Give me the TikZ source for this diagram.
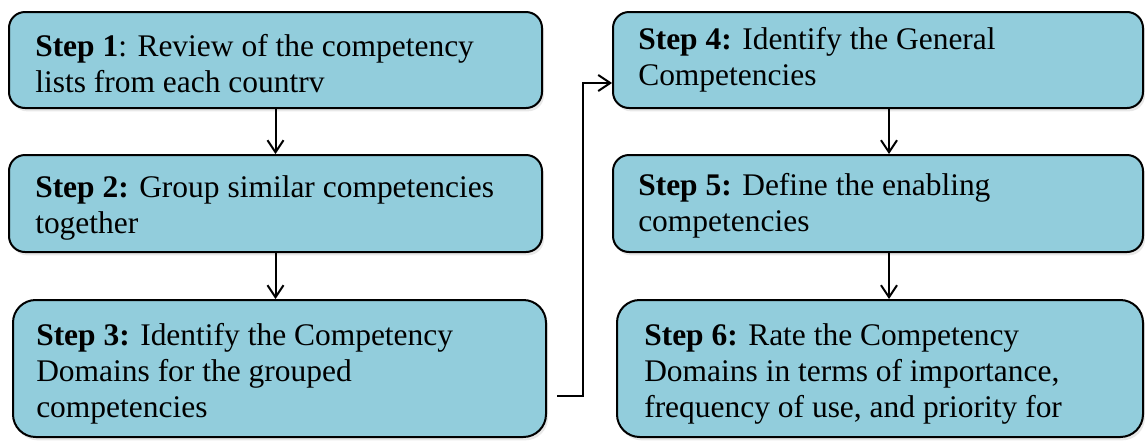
\documentclass[tikz,border=0pt]{standalone}
\usepackage{fontspec}
\setmainfont{Liberation Serif}
\usetikzlibrary{arrows.meta}
\usetikzlibrary{fit}
\usetikzlibrary{shadows}
\definecolor{stepblue}{HTML}{92CDDC}
\tikzset{
  box/.style={draw=black, line width=1.5pt, fill=stepblue, inner sep=0pt,
    drop shadow={shadow xshift=1.5pt, shadow yshift=-2.5pt, opacity=0.18}},
  steptext/.style={anchor=base west, align=left, inner sep=0pt,
    font=\fontsize{23.6}{27}\selectfont},
  arr/.style={line width=1.5pt, -{Straight Barb[length=9pt,width=12pt]}}
}
\newcommand{\stepbox}[6]{\node[box, rounded corners=#6, fit={(#2,#3) (#4,#5)}] (#1) {};}
% last line's baseline at (#2,#3)
\newcommand{\steplabel}[4]{\node[steptext] (#1) at ( #2 , #3 ) {#4};}

\begin{document}
\begin{tikzpicture}[x=0.75pt, y=-0.75pt]
        \useasboundingbox (0,0) rectangle (1145,440);

        % left column
        \stepbox{s1}{9}{12}{542}{108}{12pt}
        \stepbox{s2}{9}{155}{542}{252}{12pt}
        \stepbox{s3}{13}{300}{546}{437}{17pt}
        % right column
        \stepbox{s4}{613}{12}{1143}{108}{12pt}
        \stepbox{s5}{613}{155}{1143}{252}{12pt}
        \stepbox{s6}{617}{300}{1143}{437}{17pt}

        % texts
        \steplabel{t1}{35}{92}{\textbf{Step 1}: Review of the competency\\lists from each countrv}
        \steplabel{t2}{35}{233}{\textbf{Step 2:} Group similar competencies\\together}
        \steplabel{t3}{36}{417}{\textbf{Step 3:} Identify the Competency\\Domains for the grouped\\competencies}
        \steplabel{t4}{638}{85}{\textbf{Step 4:} Identify the General\\Competencies}
        \steplabel{t5}{638}{231}{\textbf{Step 5:} Define the enabling\\competencies}
        \steplabel{t6}{644}{417}{\textbf{Step 6:} Rate the Competency\\Domains in terms of importance,\\frequency of use, and priority for}

        % arrows
        \draw[arr] (s1) -- (s2);
        \draw[arr] (s2.south) -- (s2.south |- s3.north);
        \coordinate (c3) at (557,396);
        \draw[arr] (c3) -- ++(26,0) |- ([yshift=-17.25pt]s4.west);
        \draw[arr] ([xshift=8.25pt]s4.south) -- ([xshift=8.25pt]s4.south |- s5.north);
        \draw[arr] ([xshift=8.25pt]s5.south) -- ([xshift=8.25pt]s5.south |- s6.north);
\end{tikzpicture}
\end{document}
